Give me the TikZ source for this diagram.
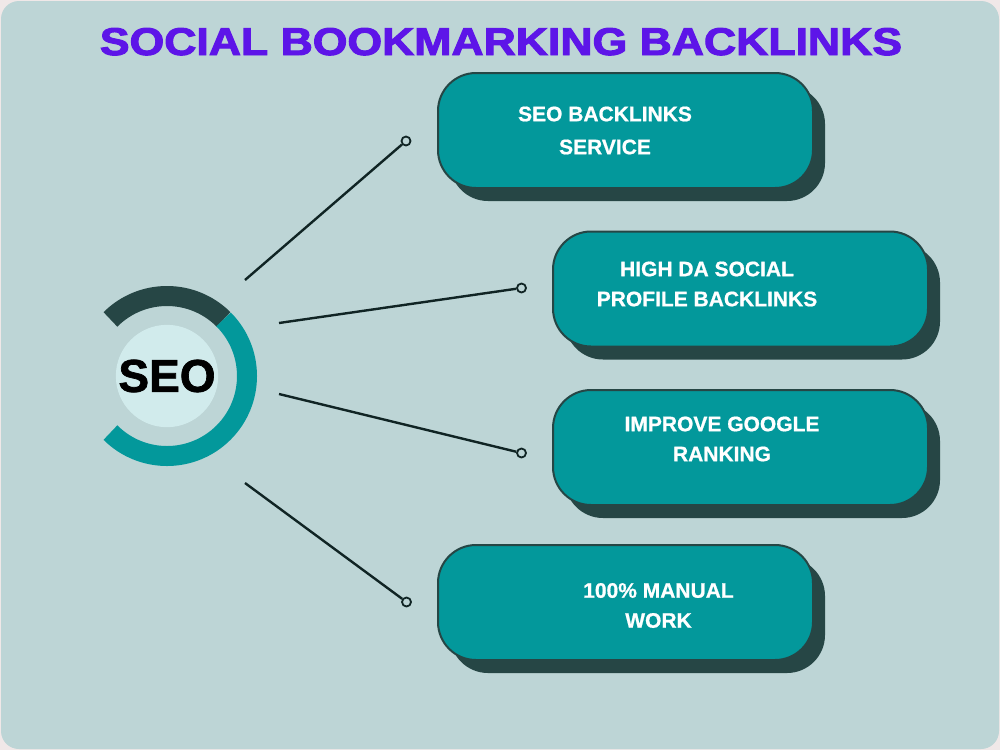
\documentclass[tikz,border=0pt]{standalone}
\usepackage{fontspec}
\setmainfont{Liberation Sans}
\newfontfamily\heavyfont{Liberation Sans}[BoldFeatures={FakeBold=2.5}]
\newfontfamily\seofont{Liberation Sans}[BoldFeatures={FakeBold=1.5}]
\newfontfamily\boxfont{Liberation Sans}[BoldFeatures={FakeBold=0.8}]
\usepackage{xcolor}
\usetikzlibrary{positioning,calc,shadows}
\definecolor{pageout}{RGB}{240,232,232}
\definecolor{pagebg}{RGB}{189,213,214}
\definecolor{boxteal}{RGB}{3,152,155}
\definecolor{darkteal}{RGB}{38,70,69}
\definecolor{linedark}{RGB}{16,36,36}
\definecolor{innerbg}{RGB}{209,235,236}
\definecolor{ttlpurple}{RGB}{93,21,232}

\begin{document}
\begin{tikzpicture}[x=1pt,y=-1pt,
  ttl/.style={text=ttlpurple,font=\heavyfont\bfseries,inner sep=0pt},
  sbox/.style={draw=darkteal,line width=2pt,fill=boxteal,rounded corners=38pt,
               minimum width=375pt,minimum height=115pt,
               drop shadow={shadow xshift=12pt,shadow yshift=-13pt,fill=darkteal,opacity=1}},
  lbl/.style={text=white,font=\boxfont\bfseries\fontsize{21}{30}\selectfont,align=center,inner sep=0pt},
  seoc/.style={circle,fill=innerbg,minimum size=92pt,inner sep=0pt,
               font=\seofont\bfseries\fontsize{46}{50}\selectfont},
  ring/.style={line width=20pt},
  dot/.style={circle,draw=linedark,line width=1.8pt,fill=pagebg,minimum size=9pt,inner sep=0pt},
  link/.style={draw=linedark,line width=2.4pt}]

  % ---------- page ----------
  \useasboundingbox (0,0) rectangle (1000,750);
  \fill[pageout] (0,0) rectangle (1000,750);
  \fill[pagebg,rounded corners=18pt] (1,1) rectangle (999,749);

  % ---------- title ----------
  \node[ttl,anchor=base] (title) at (501,55)
    {\resizebox{802pt}{27pt}{SOCIAL BOOKMARKING BACKLINKS}};

  % ---------- SEO badge ----------
  \node[seoc] (seo) at (167,376) {SEO};
  \begin{scope}[shift={(seo.center)},y=1pt]
    \draw[ring,darkteal] (45:80) arc[start angle=45,end angle=135,radius=80];
    \draw[ring,boxteal] (-135:80) arc[start angle=-135,end angle=45,radius=80];
  \end{scope}

  % ---------- boxes ----------
  \node[sbox] (b1) at (625.5,130.5) {};
  \node[sbox] (b2) at (740.5,289) {};
  \node[sbox] (b3) at (740.5,447.5) {};
  \node[sbox] (b4) at (625.5,602.5) {};

  \node[lbl] (t1) at (605,130.5) {SEO BACKLINKS\\[3pt]SERVICE};
  \node[lbl] (t2) at (707,284) {HIGH DA SOCIAL\\PROFILE BACKLINKS};
  \node[lbl] (t3) at (722,439) {IMPROVE GOOGLE\\RANKING};
  \node[lbl] (t4) at (658.5,605.5) {100\% MANUAL\\WORK};

  % ---------- connectors ----------
  \coordinate (s1) at (245,280);
  \coordinate (s2) at (279,323);
  \coordinate (s3) at (279,394);
  \coordinate (s4) at (245,483);
  \node[dot] (d1) at (406,141) {};
  \node[dot] (d2) at (521.5,288) {};
  \node[dot] (d3) at (521.5,453) {};
  \node[dot] (d4) at (406.5,602) {};
  \draw[link] (s1) -- (d1);
  \draw[link] (s2) -- (d2);
  \draw[link] (s3) -- (d3);
  \draw[link] (s4) -- (d4);
\end{tikzpicture}
\end{document}
